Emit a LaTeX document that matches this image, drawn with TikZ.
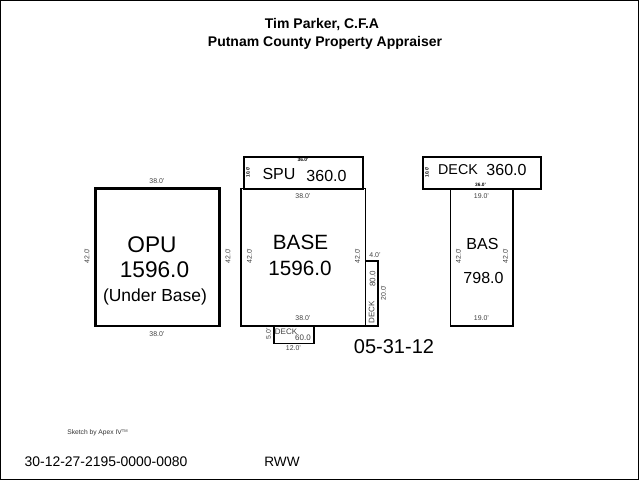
\documentclass[tikz,border=0pt]{standalone}
\usepackage{fontspec}
\setmainfont{Liberation Sans}
\tikzset{
	wall/.style={draw=black, line width=1.5pt},
	thin wall/.style={draw=black, line width=1.1pt},
	dim/.style={font=\fontsize{5.2}{6}\selectfont, text=black!75, inner sep=0pt},
	tiny dim/.style={font=\fontsize{3.6}{4}\selectfont\bfseries, inner sep=0pt},
	big label/.style={font=\fontsize{17}{20}\selectfont, inner sep=0pt},
	mid label/.style={font=\fontsize{12}{14}\selectfont, inner sep=0pt},
	head label/.style={font=\fontsize{10.5}{12}\selectfont\bfseries, inner sep=0pt},
}
\begin{document}
\begin{tikzpicture}[x=0.75pt,y=-0.75pt]
	\path[use as bounding box] (0,0) rectangle (639,480);
	\draw[black, line width=0.75pt] (0.5,0.5) rectangle (638.5,479);
	% Heading
	\node[head label] (owner) at (322,24.5) {Tim Parker, C.F.A};
	\node[head label] (appraiser) at (325,42.5) {Putnam County Property Appraiser};

	% OPU
	\draw[wall, line width=1.9pt] (95.5,188.5) rectangle (219.5,326);
	\node[big label] (opuname) at (152,245) {OPU};
	\node[big label] (opuarea) at (154.5,270) {1596.0};
	\node[mid label, font=\fontsize{13.1}{15}\selectfont] (opunote) at (155,296.5) {(Under Base)};
	\node[dim] (opuT) at (157,181) {38.0'};
	\node[dim] (opuB) at (157,334) {38.0'};
	\node[dim, rotate=90] (opuL) at (87,256) {42.0'};
	\node[dim, rotate=90] (opuR) at (228,256) {42.0'};

	% SPU
	\draw[wall] (244,156.5) rectangle (362.5,188.5);
	\node[mid label] (spuname) at (279,174) {SPU};
	\node[mid label] (spuarea) at (326.5,175.5) {360.0};
	\node[tiny dim] (spuT) at (303,160) {36.0'};
	\node[tiny dim, rotate=90] (spuL) at (248,172) {10.0'};

	% BASE
	\draw[thin wall] (241,188.5) rectangle (365.5,326);
	\node[big label, font=\fontsize{15.5}{18}\selectfont] (basename) at (300.5,242) {BASE};
	\node[big label, font=\fontsize{15.5}{18}\selectfont] (basearea) at (300,268) {1596.0};
	\node[dim] (baseT) at (303,196) {38.0'};
	\node[dim] (baseB) at (303,318) {38.0'};
	\node[dim, rotate=90] (baseL) at (249.5,256) {42.0'};
	\node[dim, rotate=90] (baseR) at (357.5,256) {42.0'};

	% DECK on the right side
	\draw[thin wall] (365.5,261) -- (378,261) -- (378,326) -- (365.5,326);
	\node[dim] (sideT) at (375,255) {4.0'};
	\node[dim, rotate=90] (sideR) at (383.5,293) {20.0'};
	\node[dim, rotate=90, font=\fontsize{6}{7}\selectfont] (sidename) at (371.5,312) {DECK};
	\node[dim, rotate=90, font=\fontsize{6}{7}\selectfont] (sidearea) at (372.5,279) {80.0};

	% DECK below
	\draw[thin wall] (274,326) -- (274,343.5) -- (314,343.5) -- (314,326);
	\node[dim, font=\fontsize{6}{7}\selectfont] (lowname) at (286,331.5) {DECK};
	\node[dim, font=\fontsize{6}{7}\selectfont] (lowarea) at (303,338) {60.0};
	\node[dim] (lowB) at (293.5,348) {12.0'};
	\node[dim, rotate=90] (lowL) at (268.5,334) {5.0'};

	% DECK on top
	\draw[wall] (423,156.5) rectangle (541,188.5);
	\node[mid label, font=\fontsize{10.7}{13}\selectfont] (topname) at (458,169.5) {DECK};
	\node[mid label] (toparea) at (506.5,169.5) {360.0};
	\node[tiny dim] (topB) at (480.5,184.5) {36.0'};
	\node[tiny dim, rotate=90] (topL) at (427,172) {10.0'};

	% BAS
	\draw[thin wall] (450.5,188.5) -- (450.5,326) -- (513,326) -- (513,188.5);
	\node[mid label] (basname) at (482.5,244) {BAS};
	\node[mid label] (basarea) at (483.5,278) {798.0};
	\node[dim] (basT) at (481.5,196) {19.0'};
	\node[dim] (basB) at (481.5,318) {19.0'};
	\node[dim, rotate=90] (basL) at (458.5,256) {42.0'};
	\node[dim, rotate=90] (basR) at (505.5,256) {42.0'};

	% Date and footer
	\node[big label, font=\fontsize{15}{18}\selectfont] (date) at (394,347) {05-31-12};
	\node[dim, font=\fontsize{5}{6}\selectfont, text=black!80] (sketch) at (97.5,433) {Sketch by Apex IV\raisebox{1.5pt}{\fontsize{3}{3}\selectfont TM}};
	\node[mid label, font=\fontsize{10.45}{12}\selectfont] (parcel) at (106,461.5) {30-12-27-2195-0000-0080};
	\node[mid label, font=\fontsize{10.2}{12}\selectfont] (initials) at (282,461.5) {RWW};
\end{tikzpicture}
\end{document}
